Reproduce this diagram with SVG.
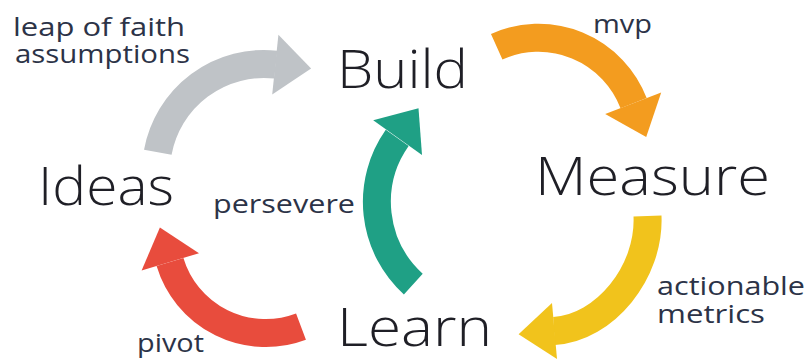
<svg xmlns="http://www.w3.org/2000/svg" width="810" height="360" viewBox="0 0 810 360">
<style>
.shaft{fill:none;stroke-width:28;stroke-linecap:butt}
.big{font-family:"Open Sans","Liberation Sans",sans-serif;font-size:54px;font-weight:300;fill:#1f1f26}
.small{font-family:"Open Sans","Liberation Sans",sans-serif;font-size:26px;fill:#2c3347}
.gray{stroke:#bfc3c7}.grayf{fill:#bfc3c7}
.orange{stroke:#f39c1f}.orangef{fill:#f39c1f}
.green{stroke:#1fa085}.greenf{fill:#1fa085}
.yellow{stroke:#f1c31c}.yellowf{fill:#f1c31c}
.red{stroke:#e84c3d}.redf{fill:#e84c3d}
</style>
<rect width="810" height="360" fill="#ffffff"/>
<g id="connectors">
  <g id="arrow-ideas-build">
    <path class="shaft gray" d="M157.8 152.3 A108 108 0 0 1 275.8 64.6"/>
    <polygon class="grayf" points="278.4,34.8 311.1,68.4 272.2,94.4"/>
  </g>
  <g id="arrow-build-measure">
    <path class="shaft orange" d="M496.7 46.7 A102 102 0 0 1 633.6 103.1"/>
    <polygon class="orangef" points="661.2,92.5 646.2,136.9 605.2,114.1"/>
  </g>
  <g id="arrow-measure-learn">
    <path class="shaft yellow" d="M647.5 216 C650 272 605 328 554 331"/>
    <polygon class="yellowf" points="552,303 518.6,334.2 557,359"/>
  </g>
  <g id="arrow-learn-ideas">
    <path class="shaft red" d="M301 326.7 A100 100 0 0 1 170 262"/>
    <polygon class="redf" points="141.6,270.6 159.9,227.5 199,253.2"/>
  </g>
  <g id="arrow-learn-build">
    <path class="shaft green" d="M413.3 284.1 A111 111 0 0 1 397.2 137.9"/>
    <polygon class="greenf" points="373.2,120.2 418.5,108.3 422,155"/>
  </g>
</g>
<g id="node-build"><text class="big" x="337" y="88" textLength="131" lengthAdjust="spacingAndGlyphs">Build</text></g>
<g id="node-measure"><text class="big" x="535" y="195" textLength="235" lengthAdjust="spacingAndGlyphs">Measure</text></g>
<g id="node-ideas"><text class="big" x="38" y="205" textLength="136" lengthAdjust="spacingAndGlyphs">Ideas</text></g>
<g id="node-learn"><text class="big" x="337" y="346" textLength="155" lengthAdjust="spacingAndGlyphs">Learn</text></g>
<g id="labels">
  <text class="small" x="13" y="36" textLength="172" lengthAdjust="spacingAndGlyphs">leap of faith</text>
  <text class="small" x="15" y="63" textLength="175" lengthAdjust="spacingAndGlyphs">assumptions</text>
  <text class="small" x="593" y="33" textLength="59" lengthAdjust="spacingAndGlyphs">mvp</text>
  <text class="small" x="213" y="213" textLength="142" lengthAdjust="spacingAndGlyphs">persevere</text>
  <text class="small" x="657" y="295" textLength="148" lengthAdjust="spacingAndGlyphs">actionable</text>
  <text class="small" x="657" y="323" textLength="108" lengthAdjust="spacingAndGlyphs">metrics</text>
  <text class="small" x="137" y="352" textLength="67" lengthAdjust="spacingAndGlyphs">pivot</text>
</g>
</svg>
